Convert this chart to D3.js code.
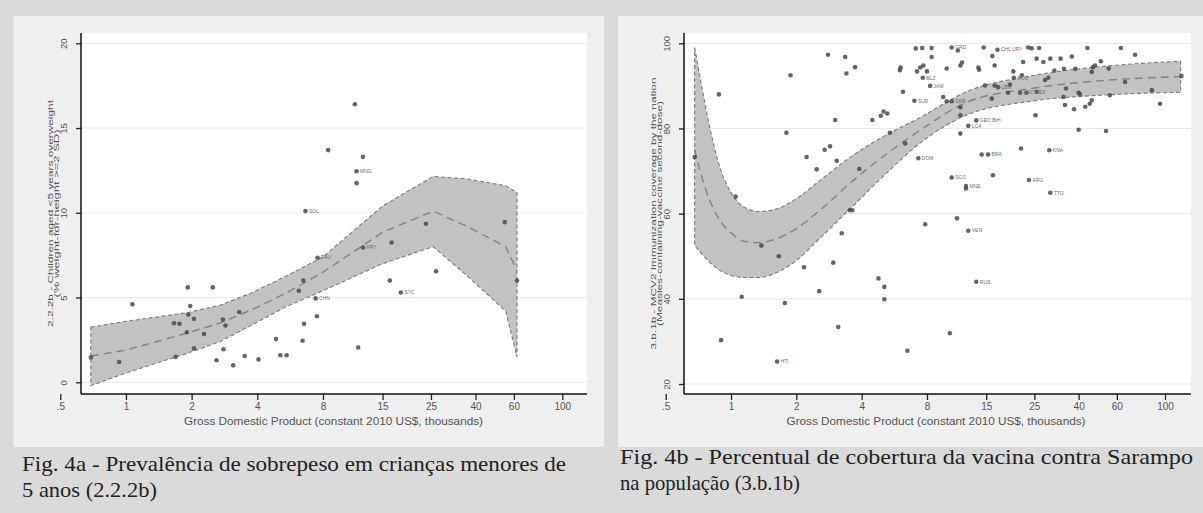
<!DOCTYPE html>
<html>
<head>
<meta charset="utf-8">
<script src="https://cdn.jsdelivr.net/npm/d3@7"></script>
<style>
  body { margin: 0; background: #dadada; }
</style>
</head>
<body>
<div id="chart"></div>
<script>
// shared x axis (GDP, log scale, thousands)
const xTicks = [0.5, 1, 2, 4, 8, 15, 25, 40, 60, 100];
const xTickLabels = [".5", "1", "2", "4", "8", "15", "25", "40", "60", "100"];
const xTitle = "Gross Domestic Product (constant 2010 US$, thousands)";

// Fig 4a - overweight children
const ovwTicks = [0, 5, 10, 15, 20];
const ovwBandGdp = [0.69, 1.0, 1.9, 2.7, 3.8, 5.4, 8, 15, 25.6, 36.5, 55, 62];
const ovwUpper   = [3.25, 3.6, 4.1, 4.55, 5.3, 6.25, 7.4, 10.4, 12.15, 12.0, 11.6, 11.2];
const ovwFit     = [1.55, 1.9, 2.9, 3.5, 4.3, 5.25, 6.5, 8.85, 10.1, 9.2, 8.0, 6.6];
const ovwLower   = [-0.2, 0.55, 1.7, 2.4, 3.4, 4.45, 5.4, 7.0, 8.0, 6.3, 4.2, 1.5];
const ovwPoints = [
  [0.69, 1.47], [0.93, 1.2], [1.07, 4.6], [1.66, 3.48], [1.76, 3.45], [1.69, 1.5],
  [1.92, 5.6], [1.93, 4.0], [1.97, 4.5], [1.9, 2.95], [2.05, 2.0], [2.05, 3.75],
  [2.28, 2.85], [2.5, 5.6], [2.6, 1.3], [2.78, 3.7], [2.86, 3.35], [2.8, 1.95],
  [3.1, 1.0], [3.3, 4.15], [3.5, 1.55], [4.05, 1.35], [4.87, 2.55], [5.1, 1.6],
  [5.45, 1.6], [6.2, 5.4], [6.5, 6.0], [6.55, 3.45], [6.45, 2.45], [6.65, 10.1, "SOL"],
  [7.4, 4.95, "CHN"], [7.5, 3.9], [7.55, 7.35, "PAU"], [8.45, 13.7], [11.2, 16.4],
  [12.2, 13.3], [11.4, 12.45, "MNG"], [11.4, 11.75], [11.6, 2.05], [12.2, 7.95, "PRY"],
  [16.5, 8.25], [16.2, 6.0], [18.2, 5.3, "SYC"], [23.7, 9.35], [26.4, 6.55],
  [54.5, 9.45], [62, 6.0]
];
const ovwTitle = ["2.2.2b - Children aged <5 years overweight", "(% weight-for-height >=2 SD)"];
const ovwCaption = ["Fig. 4a - Prevalência de sobrepeso em crianças menores de", "5 anos (2.2.2b)"];

// Fig 4b - MCV2 coverage
const mcvTicks = [20, 40, 60, 80, 100];
const mcvBandGdp = [0.68, 0.72, 0.8, 0.9, 1.0, 1.15, 1.35, 1.6, 2.0, 2.6, 3.6, 5.2, 7.4, 12, 25, 50, 118];
const mcvUpper   = [99, 92, 80, 70, 65, 61.5, 60.5, 61, 63.5, 68, 73.5, 78.5, 82.5, 88.5, 92.5, 94.5, 95.8];
const mcvFit     = [75, 70, 63, 58, 55.5, 53.5, 53.2, 54, 56.5, 61, 67.5, 74, 79.5, 86, 89.5, 91.2, 92.2];
const mcvLower   = [52.5, 51, 48.5, 46.5, 45.5, 45, 45, 46, 49, 54.5, 61.5, 69.5, 76.5, 83, 86.5, 87.8, 88.5];
const mcvPoints = [
  [0.68, 73.3], [0.88, 88], [0.9, 30.3], [1.05, 64], [1.12, 40.5], [1.38, 52.5],
  [1.63, 25.3, "HTI"], [1.66, 50], [1.77, 39], [1.8, 79], [1.88, 92.5], [2.17, 47.4],
  [2.23, 73.3], [2.48, 70.4], [2.55, 41.8], [2.7, 75], [2.86, 75.8], [2.8, 97.3],
  [2.96, 48.5], [3.02, 82], [3.07, 72.4], [3.12, 33.4], [3.24, 55.4], [3.36, 96.8],
  [3.4, 92.9], [3.52, 60.8], [3.62, 60.8], [3.73, 94.4], [3.9, 70.5], [4.48, 82],
  [4.78, 44.8], [5.09, 42.8], [5.09, 39.9], [4.9, 83], [5.05, 84], [5.25, 83.5],
  [5.4, 79], [6.0, 93.7], [6.05, 94.3], [6.2, 88.6], [6.35, 76.5], [6.5, 27.8],
  [7.0, 86.5, "SUR"], [7.1, 98.8], [7.6, 98.9], [8.4, 98.9], [7.2, 93.4], [7.45, 94.3],
  [7.7, 94.8], [8.0, 93.4], [7.3, 73, "DOM"], [7.65, 91.9, "BLZ"], [8.27, 90, "JAM"],
  [8.4, 96.8], [7.85, 57.5], [9.5, 87.4], [9.86, 94.1], [10.4, 99, "GRD"], [11.1, 98.3],
  [9.86, 86.4], [10.4, 86.4, "SRB"], [10.2, 31.9], [10.4, 68.5, "SCG"], [11.0, 58.9],
  [11.4, 94.8], [11.6, 95.5], [11.4, 85], [11.4, 83.1], [11.4, 78.8],
  [12.1, 66.5, "MNE"], [12.1, 65.9], [12.4, 80.6, "LCA"], [12.4, 56, "VEN"],
  [13.5, 81.9, "GEO BIH"], [13.5, 44, "RUS"], [13.8, 94.3], [13.9, 93.8], [14.3, 73.9],
  [15.3, 73.9, "BRA"], [14.6, 99], [16.0, 97], [14.8, 90.1], [15.9, 87], [16.1, 69],
  [16.4, 94.8], [16.4, 90.1], [17.0, 89.7, "LBN"], [16.9, 98.5, "CHL URY"], [18.9, 88.4],
  [19.3, 90.3], [20.0, 93.4], [20.1, 91.9, "ROU"], [21.5, 88.4, "KAZ MEX"], [21.7, 75.3],
  [21.9, 92.5], [22.2, 95.6], [23.0, 88.4], [23.4, 99], [24.3, 98.8], [23.6, 67.9, "ARG"],
  [25.3, 83.1], [25.6, 96.4], [25.6, 88.6], [26.3, 98.9], [27.5, 95.6], [28, 91.4],
  [29, 91.9], [29.3, 74.9, "KNA"], [29.6, 96.4], [29.6, 64.9, "TTO"], [30.9, 93.6],
  [33, 96.4], [34.1, 87.4], [34.2, 94], [34.6, 85.5], [35, 89.4], [37.2, 96.9],
  [38.1, 84.5], [38.6, 94], [40, 88.4], [40.6, 88], [40, 79.7], [42.9, 85.1],
  [43.9, 98.9], [45, 85.8], [46, 86.6], [46, 93.3], [46.5, 94.4], [47.6, 94.8],
  [50.6, 95.8], [53.5, 79.4], [55, 94.1], [55.7, 87.8], [62.6, 98.9], [65.5, 90.9],
  [72.8, 97.3], [87, 89], [94.9, 85.8], [119, 92.3]
];
const mcvTitle = ["3.b.1b - MCV2 Immunization coverage by the nation", "(Measles-containing-vaccine second-dose)"];
const mcvCaption = ["Fig. 4b - Percentual de cobertura da vacina contra Sarampo", "na população (3.b.1b)"];

const W = 1203, H = 513;

const svg = d3.select("#chart")
  .append("svg")
  .attr("width", W)
  .attr("height", H)
  .style("font-family", "'Liberation Sans', Arial, sans-serif");

svg.append("rect").attr("width", W).attr("height", H).attr("fill", "#dadada");

function drawPanel(cfg) {
  const g = svg.append("g");

  // light panel + white plot region
  g.append("rect")
    .attr("x", cfg.box[0]).attr("y", cfg.box[1])
    .attr("width", cfg.box[2] - cfg.box[0]).attr("height", cfg.box[3] - cfg.box[1])
    .attr("fill", "#efefef");
  g.append("rect")
    .attr("x", cfg.plot[0]).attr("y", cfg.plot[1])
    .attr("width", cfg.plot[2] - cfg.plot[0]).attr("height", cfg.plot[3] - cfg.plot[1])
    .attr("fill", "#ffffff");

  const x = d3.scaleLog().domain([0.5, 100]).range(cfg.xRange);
  const y = d3.scaleLinear().domain(cfg.yDomain).range(cfg.yRange);

  // grid
  g.append("g")
    .selectAll("line")
    .data(cfg.yTicks)
    .join("line")
    .attr("x1", cfg.plot[0]).attr("x2", cfg.plot[2])
    .attr("y1", (d) => y(d)).attr("y2", (d) => y(d))
    .attr("stroke", "#e8e8e8")
    .attr("stroke-width", 1);

  // confidence band
  const band = cfg.bandGdp.map((d, i) => ({ gdp: d, up: cfg.upper[i], fit: cfg.fit[i], lo: cfg.lower[i] }));
  const area = d3.area()
    .x((d) => x(d.gdp))
    .y0((d) => y(d.lo))
    .y1((d) => y(d.up))
    .curve(cfg.curve);
  g.append("path")
    .attr("d", area(band))
    .attr("fill", "#c2c2c2")
    .attr("stroke", "#7c7c7c")
    .attr("stroke-width", 1.1)
    .attr("stroke-dasharray", "4,2.5");
  const fitLine = d3.line()
    .x((d) => x(d.gdp))
    .y((d) => y(d.fit))
    .curve(cfg.curve);
  g.append("path")
    .attr("d", fitLine(band))
    .attr("fill", "none")
    .attr("stroke", "#858585")
    .attr("stroke-width", 1.4)
    .attr("stroke-dasharray", "8,5");

  // points + country codes
  g.append("g")
    .selectAll("circle")
    .data(cfg.points)
    .join("circle")
    .attr("cx", (d) => x(d[0]))
    .attr("cy", (d) => y(d[1]))
    .attr("r", 2.3)
    .attr("fill", "#4a4a4a")
    .attr("fill-opacity", 0.85);
  g.append("g")
    .selectAll("text")
    .data(cfg.points.filter((d) => d[2]))
    .join("text")
    .attr("x", (d) => x(d[0]) + 3.5)
    .attr("y", (d) => y(d[1]))
    .attr("dy", "0.35em")
    .attr("font-size", 5)
    .attr("fill", "#6e6e6e")
    .text((d) => d[2]);

  // x axis
  const xAxis = g.append("g")
    .attr("transform", `translate(0, ${cfg.plot[3]})`)
    .call(d3.axisBottom(x).tickValues(xTicks).tickFormat((d, i) => xTickLabels[i]).tickSize(6).tickPadding(3));
  xAxis.select(".domain").remove();
  xAxis.selectAll("line").attr("stroke", "#222").attr("stroke-width", 1.3);
  xAxis.selectAll("text").attr("font-size", 10).attr("fill", "#555")
    .attr("font-family", "'Liberation Sans', Arial, sans-serif");

  // y axis with rotated labels
  const yAxis = g.append("g")
    .attr("transform", `translate(${cfg.plot[0]}, 0)`)
    .call(d3.axisLeft(y).tickValues(cfg.yTicks).tickSize(5));
  yAxis.select(".domain").remove();
  yAxis.selectAll("line").attr("stroke", "#222").attr("stroke-width", 1.3);
  yAxis.selectAll("text")
    .attr("transform", "rotate(-90)")
    .attr("x", 0).attr("y", -14).attr("dy", 0)
    .attr("text-anchor", "middle")
    .attr("font-size", 9.5).attr("fill", "#555")
    .attr("font-family", "'Liberation Sans', Arial, sans-serif");

  // axis lines
  g.append("line")
    .attr("x1", cfg.plot[0]).attr("x2", cfg.plot[2])
    .attr("y1", cfg.plot[3]).attr("y2", cfg.plot[3])
    .attr("stroke", "#111").attr("stroke-width", 1.5);
  g.append("line")
    .attr("x1", cfg.plot[0]).attr("x2", cfg.plot[0])
    .attr("y1", cfg.plot[1]).attr("y2", cfg.plot[3])
    .attr("stroke", "#111").attr("stroke-width", 1.5);

  // axis titles
  g.append("text")
    .attr("x", cfg.xTitleX).attr("y", 424.5)
    .attr("text-anchor", "middle")
    .attr("font-size", 10).attr("fill", "#555")
    .attr("textLength", 299).attr("lengthAdjust", "spacingAndGlyphs")
    .text(xTitle);
  const midY = (cfg.plot[1] + cfg.plot[3]) / 2;
  cfg.yTitle.forEach((t, i) => {
    g.append("text")
      .attr("transform", `translate(${cfg.plot[0] - 28 + i * 6}, ${midY}) rotate(-90)`)
      .attr("text-anchor", "middle")
      .attr("font-size", 7.5).attr("fill", "#555")
      .attr("textLength", cfg.yTitleLen[i]).attr("lengthAdjust", "spacingAndGlyphs")
      .text(t);
  });

  // caption
  cfg.caption.forEach((t, i) => {
    g.append("text")
      .attr("x", cfg.captionX).attr("y", cfg.captionY + i * 26)
      .attr("font-family", "'Liberation Serif', 'Times New Roman', 'DejaVu Serif', serif")
      .attr("font-size", 21).attr("fill", "#222")
      .attr("textLength", cfg.captionLen[i]).attr("lengthAdjust", "spacingAndGlyphs")
      .text(t);
  });
}

drawPanel({
  box: [13.5, 16, 604, 447],
  plot: [81, 33, 587, 394],
  xRange: [60.3, 562.3],
  yDomain: [0, 20], yRange: [382.3, 43.3], yTicks: ovwTicks,
  bandGdp: ovwBandGdp, upper: ovwUpper, fit: ovwFit, lower: ovwLower,
  curve: d3.curveLinear,
  points: ovwPoints,
  xTitleX: 333.5,
  yTitle: ovwTitle, yTitleLen: [227, 168],
  caption: ovwCaption, captionX: 22, captionY: 471, captionLen: [544, 135]
});

drawPanel({
  box: [618, 16, 1203, 447],
  plot: [684, 33, 1191, 394],
  xRange: [665.7, 1165],
  yDomain: [20, 100], yRange: [384, 43.3], yTicks: mcvTicks,
  bandGdp: mcvBandGdp, upper: mcvUpper, fit: mcvFit, lower: mcvLower,
  curve: d3.curveMonotoneX,
  points: mcvPoints,
  xTitleX: 936,
  yTitle: mcvTitle, yTitleLen: [272, 225],
  caption: mcvCaption, captionX: 620, captionY: 464, captionLen: [573, 180]
});
</script>
</body>
</html>
